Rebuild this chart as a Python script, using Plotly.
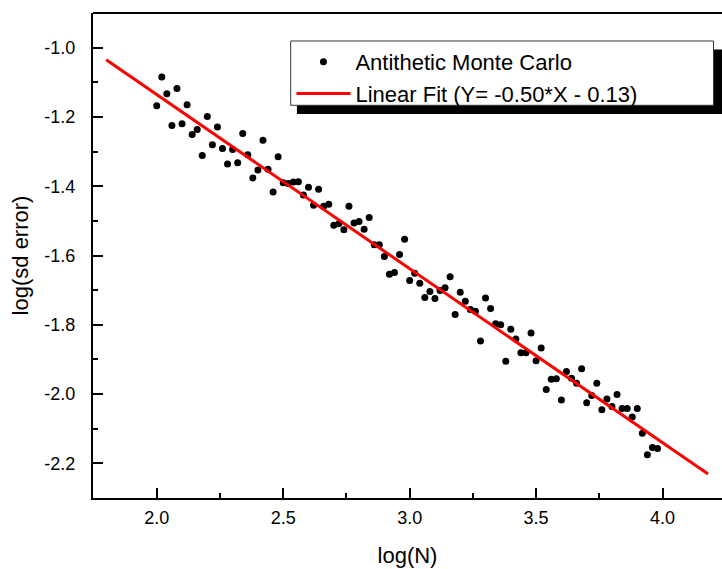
import plotly.graph_objects as go

# ---- data ----
log_n = [2.00, 2.02, 2.04, 2.06, 2.08, 2.10, 2.12, 2.14, 2.16, 2.18,
         2.20, 2.22, 2.24, 2.26, 2.28, 2.30, 2.32, 2.34, 2.36, 2.38,
         2.40, 2.42, 2.44, 2.46, 2.48, 2.50, 2.52, 2.54, 2.56, 2.58,
         2.60, 2.62, 2.64, 2.66, 2.68, 2.70, 2.72, 2.74, 2.76, 2.78,
         2.80, 2.82, 2.84, 2.86, 2.88, 2.90, 2.92, 2.94, 2.96, 2.98,
         3.00, 3.02, 3.04, 3.06, 3.08, 3.10, 3.12, 3.14, 3.16, 3.18,
         3.20, 3.22, 3.24, 3.26, 3.28, 3.30, 3.32, 3.34, 3.36, 3.38,
         3.40, 3.42, 3.44, 3.46, 3.48, 3.50, 3.52, 3.54, 3.56, 3.58,
         3.60, 3.62, 3.64, 3.66, 3.68, 3.70, 3.72, 3.74, 3.76, 3.78,
         3.80, 3.82, 3.84, 3.86, 3.88, 3.90, 3.92, 3.94, 3.96, 3.98]
log_sd_error = [-1.168, -1.085, -1.133, -1.225, -1.118, -1.220, -1.165, -1.251, -1.236, -1.311,
                -1.199, -1.280, -1.229, -1.291, -1.336, -1.294, -1.332, -1.248, -1.309, -1.376,
                -1.353, -1.267, -1.351, -1.417, -1.315, -1.390, -1.392, -1.388, -1.387, -1.425,
                -1.403, -1.455, -1.409, -1.458, -1.452, -1.513, -1.508, -1.526, -1.458, -1.506,
                -1.502, -1.524, -1.490, -1.569, -1.569, -1.603, -1.654, -1.649, -1.597, -1.553,
                -1.672, -1.651, -1.680, -1.721, -1.704, -1.724, -1.701, -1.693, -1.661, -1.770,
                -1.706, -1.732, -1.756, -1.761, -1.847, -1.723, -1.753, -1.797, -1.800, -1.905,
                -1.813, -1.841, -1.881, -1.881, -1.824, -1.904, -1.867, -1.987, -1.957, -1.956,
                -2.017, -1.935, -1.954, -1.969, -1.927, -2.025, -2.004, -1.969, -2.045, -2.014,
                -2.036, -2.001, -2.042, -2.042, -2.066, -2.042, -2.113, -2.175, -2.154, -2.157]

fit_x = [1.80, 4.18]
fit_y = [-1.035, -2.231]

x_tick_vals = [2.0, 2.5, 3.0, 3.5, 4.0]
x_tick_text = ["2.0", "2.5", "3.0", "3.5", "4.0"]
y_tick_vals = [-1.0, -1.2, -1.4, -1.6, -1.8, -2.0, -2.2]
y_tick_text = ["-1.0", "-1.2", "-1.4", "-1.6", "-1.8", "-2.0", "-2.2"]

FONT = "Liberation Sans, Arial, Helvetica, sans-serif"

fig = go.Figure()
fig.add_trace(go.Scatter(
    x=log_n, y=log_sd_error, mode="markers",
    name="Antithetic Monte Carlo",
    marker=dict(color="black", size=7, line=dict(width=0)),
))
fig.add_trace(go.Scatter(
    x=fit_x, y=fit_y, mode="lines",
    name="Linear Fit (Y= -0.50*X - 0.13)",
    line=dict(color="#ff0000", width=3),
))

# top frame line (plot box top edge); the frame runs past the cropped right edge
fig.add_shape(type="line", xref="paper", yref="paper",
              x0=0, x1=1.0, y0=1.0, y1=1.0,
              line=dict(color="black", width=2), layer="above")
# legend frame + drop shadow (paper coordinates)
fig.add_shape(type="rect", xref="paper", yref="paper",
              x0=0.3242, x1=1.0, y0=0.7918, y1=0.9250,
              fillcolor="black", line=dict(width=0), layer="above")
fig.add_shape(type="rect", xref="paper", yref="paper",
              x0=0.3143, x1=0.9865, y0=0.8097, y1=0.9423,
              fillcolor="white", line=dict(color="#333333", width=1), layer="above")

fig.update_layout(
    template="none",
    width=760, height=569,
    margin=dict(l=93, r=38, t=13, b=71, pad=0),
    paper_bgcolor="white", plot_bgcolor="white",
    font=dict(family=FONT, size=18, color="black"),
    showlegend=True,
    legend=dict(
        x=0.3155, y=0.9423, xanchor="left", yanchor="top",
        bgcolor="rgba(0,0,0,0)", borderwidth=0,
        font=dict(size=22, family=FONT, color="black"),
        itemwidth=54, tracegroupgap=0,
    ),
    xaxis=dict(
        range=[1.748, 4.235], showgrid=False, zeroline=False, automargin=False,
        showline=True, linecolor="black", linewidth=2, mirror=False,
        ticks="inside", ticklen=10, tickwidth=2, tickcolor="black",
        tickvals=x_tick_vals, ticktext=x_tick_text,
        tickfont=dict(size=18), ticklabelstandoff=2,
        minor=dict(ticks="inside", ticklen=5, tickwidth=2, tickcolor="black", dtick=0.25, tick0=2.0, showgrid=False),
        title=dict(text="log(N)", font=dict(size=22), standoff=21),
    ),
    yaxis=dict(
        range=[-2.30, -0.90], showgrid=False, zeroline=False, automargin=False,
        showline=True, linecolor="black", linewidth=2, mirror=False,
        ticks="inside", ticklen=10, tickwidth=2, tickcolor="black",
        tickvals=y_tick_vals, ticktext=y_tick_text,
        tickfont=dict(size=18), ticklabelstandoff=12,
        minor=dict(ticks="inside", ticklen=5, tickwidth=2, tickcolor="black", dtick=0.1, tick0=-1.0, showgrid=False),
        title=dict(text="log(sd error)", font=dict(size=22), standoff=10),
    ),
)

fig.write_html("out.html")
